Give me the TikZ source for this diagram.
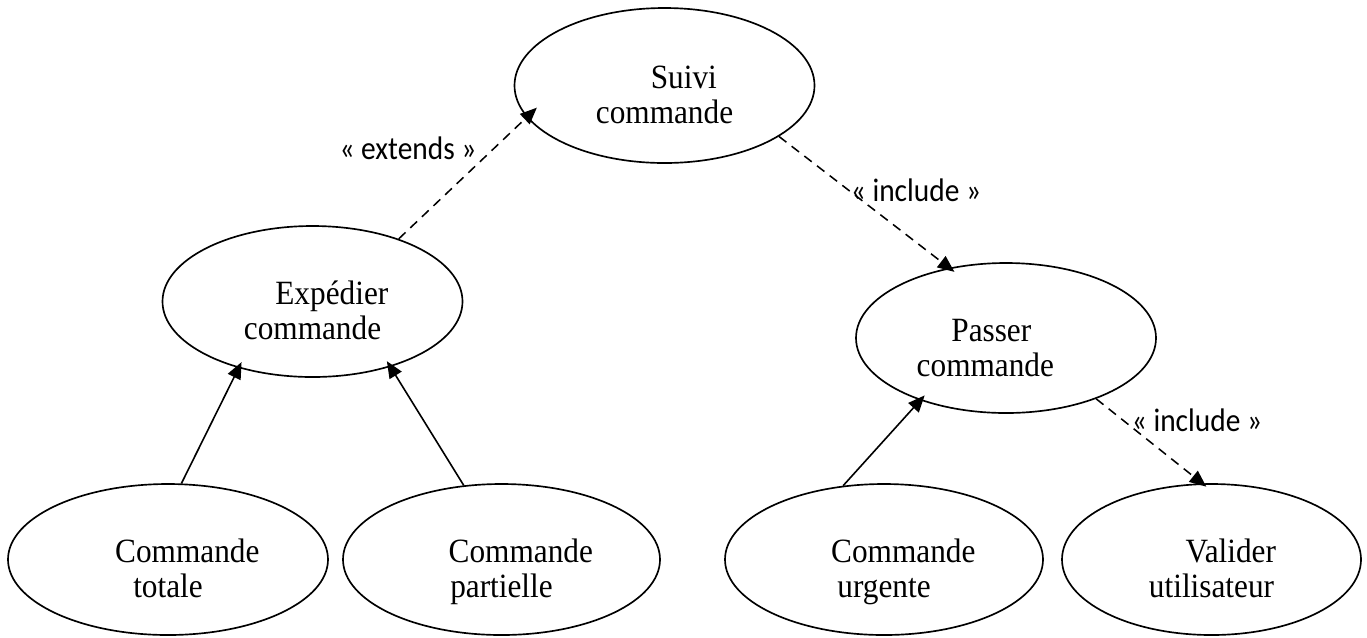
\documentclass[tikz,border=0pt]{standalone}
\usepackage{fontspec}
\setmainfont{Liberation Serif}
\newfontfamily\ucfont[FakeStretch=0.92]{Liberation Serif}
\newfontfamily\labfont[FakeStretch=0.9]{Carlito}
\usetikzlibrary{shapes.geometric,arrows.meta}
\newcommand{\uctop}{\rule{0pt}{38.25pt}}
\newcommand{\ucbot}{\rule[-7.5pt]{0pt}{7.5pt}}
\tikzset{
  uc/.style={ellipse, draw, line width=1.25pt, inner sep=0pt, align=center,
    font=\ucfont\fontsize{25.5pt}{26.25pt}\selectfont},
  stereo/.style={font=\labfont\fontsize{24.5pt}{26pt}\selectfont, inner sep=0pt},
  dep/.style={line width=1.15pt, dash pattern=on 7pt off 5pt, -{Triangle[length=12.5pt,width=10.5pt]}},
  gen/.style={line width=1.2pt, -{Triangle[length=12.5pt,width=10.5pt]}}
}
\begin{document}
\begin{tikzpicture}[x=0.75pt,y=-0.75pt]
\useasboundingbox (0,0) rectangle (1367,637);
\node[uc, minimum width=225pt, minimum height=116.25pt] (suivi) at (664.5,85.5) {\uctop\hspace*{29pt}Suivi\\commande\ucbot};
\node[uc, minimum width=225pt, minimum height=113.25pt] (exp) at (312.5,301.5) {\uctop\hspace*{29pt}Expédier\\commande\ucbot};
\node[uc, minimum width=225pt, minimum height=112.5pt] (passer) at (1006,338) {\uctop Passer\hspace*{22pt}\\commande\hspace*{31pt}\ucbot};
\node[uc, minimum width=240pt, minimum height=113.25pt] (totale) at (168,559.5) {\uctop\hspace*{29pt}Commande\\totale\ucbot};
\node[uc, minimum width=237.75pt, minimum height=113.25pt] (partielle) at (501.5,559.5) {\uctop\hspace*{29pt}Commande\\partielle\ucbot};
\node[uc, minimum width=238.5pt, minimum height=113.25pt] (urgente) at (884,559.5) {\uctop\hspace*{29pt}Commande\\urgente\ucbot};
\node[uc, minimum width=224.25pt, minimum height=113.25pt] (valider) at (1211.5,559.5) {\uctop\hspace*{29pt}Valider\\utilisateur\ucbot};

\draw[dep, shorten >=-10.5pt] (exp.36) -- (suivi.193.7);
\draw[dep, shorten >=-5pt] (suivi.336.1) -- (passer.129.6);
\draw[dep, shorten >=-4pt] (passer.326.6) -- (valider.97.2);
\draw[gen, shorten >=-5pt] (totale.80.1) -- (exp.222.3);
\draw[gen, shorten >=-5pt] (partielle.117.9) -- (exp.320.2);
\draw[gen, shorten >=-5pt] (urgente.119.7) -- (passer.216.1);

\node[stereo] (lext) at (408,148) {« extends »};
\node[stereo] (linc1) at (916,190) {« include »};
\node[stereo] (linc2) at (1197,420) {« include »};
\end{tikzpicture}
\end{document}
